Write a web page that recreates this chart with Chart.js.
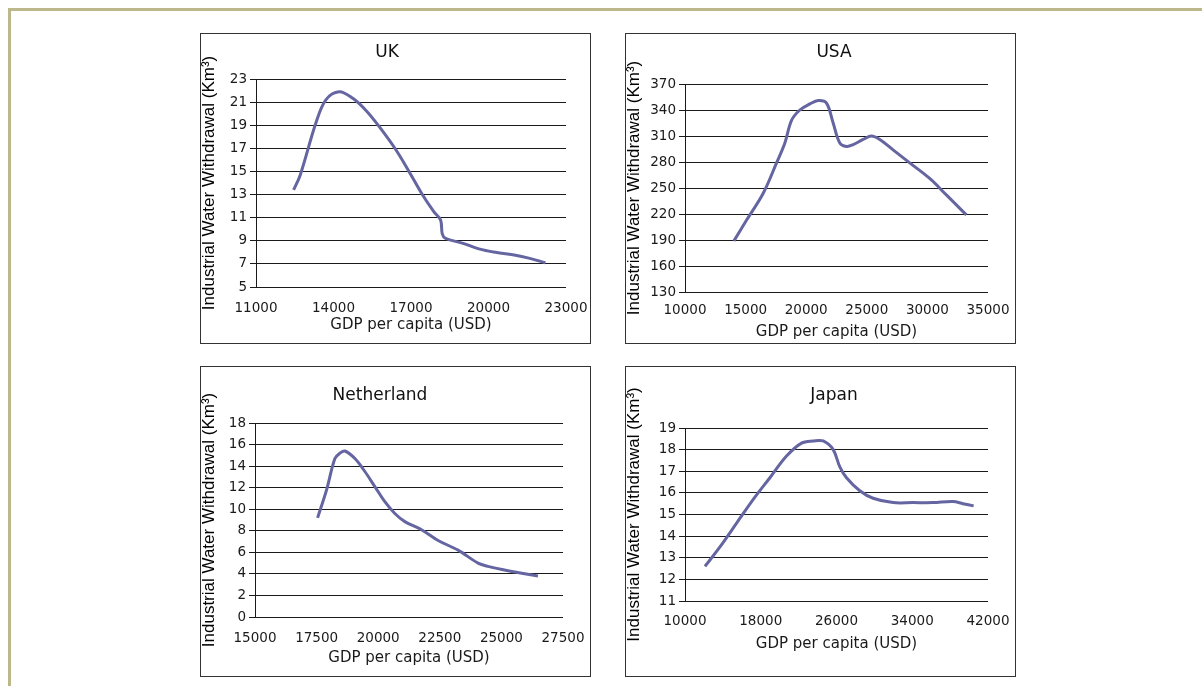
<!DOCTYPE html>
<html>
<head>
<meta charset="utf-8">
<script src="https://cdn.jsdelivr.net/npm/chart.js@4.4.1/dist/chart.umd.min.js"></script>
<style>
  body { margin: 0; width: 1202px; height: 686px; overflow: hidden; position: relative; background: #fff; font-family: "DejaVu Sans", sans-serif; }
  #frame { position: absolute; left: 8px; top: 8px; width: 1300px; height: 800px; border-left: 3px solid #bdb88b; border-top: 3px solid #bdb88b; }
  .panel { position: absolute; width: 389px; height: 309px; border: 1px solid #333; }
  .panel canvas { position: absolute; left: 0; top: 0; }
  .title { position: absolute; font-size: 17px; line-height: 1; color: #111; transform: translate(-50%, -50%); white-space: nowrap; }
</style>
</head>
<body>
<div id="frame"></div>

<div class="panel" style="left:200px;top:33px"><canvas id="ukChart" width="389" height="309"></canvas></div>
<div class="panel" style="left:625px;top:33px"><canvas id="usaChart" width="389" height="309"></canvas></div>
<div class="panel" style="left:200px;top:366px"><canvas id="nlChart" width="389" height="309"></canvas></div>
<div class="panel" style="left:625px;top:366px"><canvas id="jpChart" width="389" height="309"></canvas></div>

<div class="title" style="left:387px;top:51px">UK</div>
<div class="title" style="left:834px;top:51px">USA</div>
<div class="title" style="left:380px;top:394px">Netherland</div>
<div class="title" style="left:834px;top:394px">Japan</div>

<script>
// Courbes (PIB/hab. en USD, prélèvement industriel en km³)
const ukGdp    = [12455, 12713, 13318, 13704, 14219, 14734, 15249, 15764, 16408, 16923, 17438, 17889, 18146, 18210, 18339, 18983, 19627, 20271, 21044, 21558, 22202];
const ukWater  = [13.4, 14.7, 19.2, 21.2, 21.9, 21.35, 20.3, 18.9, 16.9, 15.0, 13.0, 11.5, 10.8, 9.6, 9.2, 8.8, 8.3, 8.0, 7.75, 7.5, 7.1];
const ukXTicks = [11000, 14000, 17000, 20000, 23000];
const ukYTicks = [5, 7, 9, 11, 13, 15, 17, 19, 21, 23];

const usaGdp    = [14038, 15082, 16455, 17554, 18241, 18790, 19477, 20301, 20988, 21675, 22224, 22773, 23323, 23872, 24696, 25383, 26070, 27168, 28542, 30190, 31564, 33212];
const usaWater  = [189, 213, 244, 279, 302, 328, 340, 347, 351, 348, 325, 302, 298, 300, 306, 310, 306, 294, 279, 261, 242, 219];
const usaXTicks = [10000, 15000, 20000, 25000, 30000, 35000];
const usaYTicks = [130, 160, 190, 220, 250, 280, 310, 340, 370];

const nlGdp    = [17540, 17905, 18243, 18446, 18648, 19054, 19459, 19864, 20270, 20675, 21080, 21756, 22431, 23242, 24052, 24458, 25268, 26484];
const nlWater  = [9.2, 11.8, 14.7, 15.2, 15.4, 14.7, 13.5, 12.1, 10.7, 9.6, 8.85, 8.1, 7.1, 6.2, 5.0, 4.7, 4.3, 3.8];
const nlXTicks = [15000, 17500, 20000, 22500, 25000, 27500];
const nlYTicks = [0, 2, 4, 6, 8, 10, 12, 14, 16, 18];

const jpGdp    = [12110, 13692, 15450, 17208, 18967, 20725, 22307, 23538, 24593, 25648, 26351, 27054, 28460, 29867, 31977, 34086, 36196, 38306, 39360, 40485];
const jpWater  = [12.6, 13.5, 14.6, 15.7, 16.7, 17.7, 18.3, 18.4, 18.4, 18.0, 17.2, 16.7, 16.1, 15.75, 15.55, 15.55, 15.55, 15.6, 15.5, 15.4];
const jpXTicks = [10000, 18000, 26000, 34000, 42000];
const jpYTicks = [11, 12, 13, 14, 15, 16, 17, 18, 19];

const LINE_COLOR = '#6465a1';
const INK        = '#1a1a1a';
const TICK_FONT  = { family: 'DejaVu Sans', size: 13.5 };
const CANVAS_W   = 389;
const CANVAS_H   = 309;

/** plot = zone de tracé (px dans le canvas), tickPad / titlePad = réglages de l'axe X. */
function drawPanel(id, gdp, water, xTicks, yTicks, plot, tickPad, titlePad) {
  const points = gdp.map((x, i) => ({ x, y: water[i] }));

  new Chart(document.getElementById(id), {
    type: 'line',
    data: {
      datasets: [{
        data:        points,
        borderColor: LINE_COLOR,
        borderWidth: 3,
        pointRadius: 0,
        tension:     0.35,
        fill:        false,
      }],
    },
    options: {
      responsive: false, animation: false,
      layout: { padding: { top: plot.t, right: CANVAS_W - plot.r, left: 0, bottom: 0 } },
      plugins: { legend: { display: false }, tooltip: { enabled: false } },
      scales: {
        x: {
          type: 'linear',
          min: xTicks[0], max: xTicks[xTicks.length - 1],
          // hauteur fixe + pas de marge auto pour que la zone de tracé tombe pile
          afterFit: s => { s.height = CANVAS_H - plot.b; s.paddingLeft = 0; s.paddingRight = 0; },
          grid:   { display: false, drawTicks: false },
          border: { display: false },
          ticks: {
            stepSize: xTicks[1] - xTicks[0],
            autoSkip: false, maxRotation: 0,
            padding: tickPad, color: INK, font: TICK_FONT,
            callback: v => String(v),
          },
          title: {
            display: true, text: 'GDP per capita (USD)', color: INK,
            font: { family: 'DejaVu Sans', size: 15, lineHeight: 1.2 },
            padding: { top: 0, bottom: titlePad },
          },
        },
        y: {
          min: yTicks[0], max: yTicks[yTicks.length - 1],
          afterFit: s => { s.width = plot.l; s.paddingTop = 0; s.paddingBottom = 0; },
          grid:   { color: INK, lineWidth: 1, tickLength: 6 },
          border: { color: INK, width: 1 },
          ticks: {
            stepSize: yTicks[1] - yTicks[0],
            autoSkip: false,
            padding: 3, color: INK, font: TICK_FONT,
          },
          title: {
            display: true, text: 'Industrial Water Withdrawal (Km³)', color: '#000',
            font: { family: 'Liberation Sans', size: 17, lineHeight: 1 },
            padding: 0,
          },
        },
      },
    },
  });
}

drawPanel('ukChart',  ukGdp,  ukWater,  ukXTicks,  ukYTicks,  { l: 55, r: 365, t: 45, b: 253 }, 13, 9);
drawPanel('usaChart', usaGdp, usaWater, usaXTicks, usaYTicks, { l: 59, r: 362, t: 50, b: 258 }, 10, 2);
drawPanel('nlChart',  nlGdp,  nlWater,  nlXTicks,  nlYTicks,  { l: 54, r: 362, t: 56, b: 250 }, 13, 9);
drawPanel('jpChart',  jpGdp,  jpWater,  jpXTicks,  jpYTicks,  { l: 59, r: 362, t: 61, b: 234 }, 12, 23);
</script>
</body>
</html>
